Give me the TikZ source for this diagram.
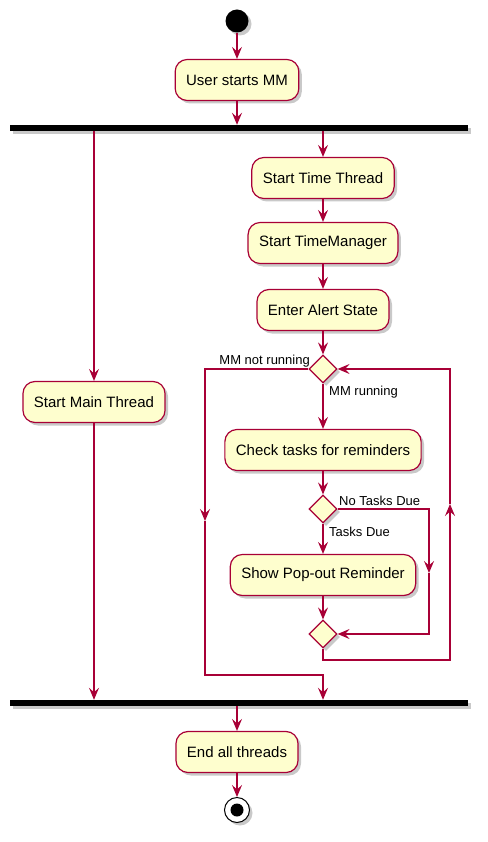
\documentclass[tikz,border=0pt]{standalone}
\usepackage{fontspec}
\setmainfont{Liberation Sans}
\usetikzlibrary{shadows,arrows.meta,shapes.geometric}
\definecolor{pborder}{HTML}{A80036}
\definecolor{pfill}{HTML}{FEFECE}
\tikzset{
  shad/.style={drop shadow={shadow xshift=3pt,shadow yshift=-3pt,opacity=0.3,fill=black!70}},
  act/.style={rectangle,rounded corners=12pt,draw=pborder,fill=pfill,line width=1.2pt,
    minimum height=41pt,inner xsep=11pt,font=\fontsize{15}{18}\selectfont,shad},
  dia/.style={diamond,aspect=1,draw=pborder,fill=pfill,line width=1.2pt,minimum size=28pt,inner sep=0pt,shad},
  bar/.style={rectangle,fill=black,minimum width=458pt,minimum height=6pt,inner sep=0pt,shad},
  line/.style={draw=pborder,line width=1.2pt},
  flow/.style={draw=pborder,line width=1.2pt,-{Stealth[length=12pt,width=10pt,inset=4.5pt]}},
  lbl/.style={font=\fontsize{13}{15}\selectfont,inner sep=0pt},
}
\begin{document}
\begin{tikzpicture}[x=1pt,y=-1pt]
\useasboundingbox (0,0) rectangle (487,842);
% nodes
\node[circle,fill=black,minimum size=23pt,inner sep=0pt,shad] (start) at (237,21) {};
\node[act] (ustart) at (237,80) {User starts MM};
\node[bar] (fork) at (239,128) {};
\node[act] (mthread) at (94,402) {Start Main Thread};
\node[act] (tthread) at (323,178) {Start Time Thread};
\node[act] (tman) at (323,243) {Start TimeManager};
\node[act] (alert) at (323,310) {Enter Alert State};
\node[dia] (d1) at (323,369) {};
\node[act] (check) at (323,450) {Check tasks for reminders};
\node[dia] (d2) at (323,509) {};
\node[act] (popup) at (323,575) {Show Pop-out Reminder};
\node[dia] (merge) at (323,634) {};
\node[bar] (join) at (239,703) {};
\node[act] (endall) at (237,752) {End all threads};
\node[circle,draw=black,fill=white,line width=1pt,minimum size=25pt,inner sep=0pt,shad] (stop) at (237,810) {};
\node[circle,fill=black,minimum size=13pt,inner sep=0pt] (stopin) at (stop) {};
% labels
\node[lbl,anchor=east] (lnot) at (310,361) {MM not running};
\node[lbl,anchor=west] (lrun) at (329,392) {MM running};
\node[lbl,anchor=west] (lno) at (339,501) {No Tasks Due};
\node[lbl,anchor=west] (ldue) at (329,532) {Tasks Due};
% coordinates
\coordinate (a1) at (205,369);
\coordinate (a2) at (205,521);
\coordinate (a3) at (205,675);
\coordinate (a4) at (323,675);
\coordinate (b1) at (323,660);
\coordinate (b2) at (450,660);
\coordinate (b3) at (450,504);
\coordinate (b4) at (450,369);
\coordinate (c1) at (429,509);
\coordinate (c2) at (429,573);
\coordinate (c3) at (429,634);
% edges
\draw[flow] (start.south) -- (ustart.north);
\draw[flow] (ustart.south) -- (fork.north -| ustart);
\draw[flow] (fork.south -| mthread) -- (mthread.north);
\draw[flow] (mthread.south) -- (join.north -| mthread);
\draw[flow] (fork.south -| tthread) -- (tthread.north);
\draw[flow] (tthread.south) -- (tman.north);
\draw[flow] (tman.south) -- (alert.north);
\draw[flow] (alert.south) -- (d1.north);
\draw[flow] (d1.south) -- (check.north);
\draw[flow] (check.south) -- (d2.north);
\draw[flow] (d2.south) -- (popup.north);
\draw[flow] (popup.south) -- (merge.north);
\draw[flow] (d2.east) -- (c1) -- (c2);
\draw[flow] (c2) -- (c3) -- (merge.east);
\draw[flow] (merge.south) -- (b1) -- (b2) -- (b3);
\draw[flow] (b3) -- (b4) -- (d1.east);
\draw[flow] (d1.west) -- (a1) -- (a2);
\draw[flow] (a2) -- (a3) -- (a4) -- (join.north -| a4);
\draw[flow] (join.south -| endall) -- (endall.north);
\draw[flow] (endall.south) -- (stop.north);
\end{tikzpicture}
\end{document}
